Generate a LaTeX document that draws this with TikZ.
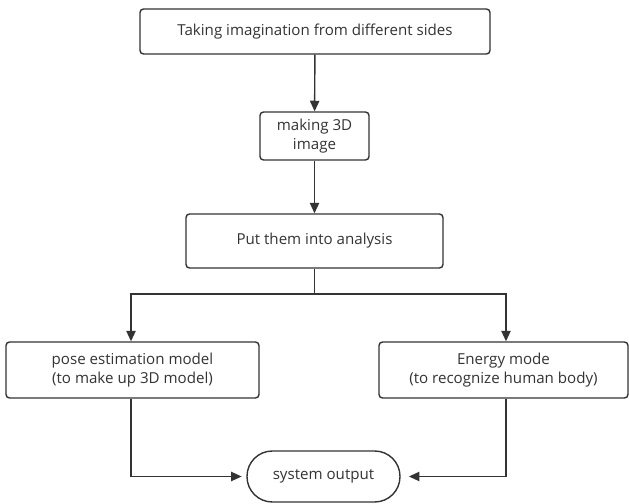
\documentclass[tikz,border=0pt]{standalone}
\usepackage{fontspec}
\setmainfont{Open Sans}
\usetikzlibrary{arrows.meta}
\begin{document}
\begin{tikzpicture}[
	box/.style={draw=black!80,line width=1.2pt,rounded corners=3pt,inner sep=0pt,align=center,text=black!80,font=\fontsize{12.9}{16.5}\selectfont},
	term/.style={draw=black!80,line width=1.2pt,rounded corners=0.76cm,inner sep=0pt,align=center,text=black!80,font=\fontsize{12.9}{16.5}\selectfont},
	link/.style={black!80,line width=1.2pt,-{Triangle[length=9pt,width=8pt]}}]
			\useasboundingbox (0,0) rectangle (18.87,15.09);
			\node[box,minimum width=10.5cm,minimum height=1.35cm](sides) at (9.45,14.145){Taking imagination from different sides};
			\node[box,minimum width=3.27cm,minimum height=1.44cm](image) at (9.435,11.01){making 3D\\image};
			\node[box,minimum width=7.71cm,minimum height=1.62cm](analysis) at (9.435,7.86){Put them into analysis};
			\node[box,minimum width=7.59cm,minimum height=1.68cm](pose) at (3.975,3.99){pose estimation model\\(to make up 3D model)};
			\node[box,minimum width=7.47cm,minimum height=1.68cm](energy) at (15.105,3.99){Energy mode\\(to recognize human body)};
			\node[term,minimum width=4.59cm,minimum height=1.53cm](output) at (9.705,0.795){system output};
			\coordinate(split) at (9.435,6.27);
			\draw[link] (sides)--(image);
			\draw[link] (image)--(analysis);
			\draw[black!80,line width=1.2pt] (analysis)--(split);
			\draw[link] (split)-|(pose.north-|3.93,0);
			\draw[link] (split)-|(energy.north-|15.18,0);
			\draw[link] (pose.south-|3.93,0)|-([xshift=-4pt]output.west);
			\draw[link] (energy.south-|15.18,0)|-([xshift=7pt]output.east);
		\end{tikzpicture}
\end{document}
